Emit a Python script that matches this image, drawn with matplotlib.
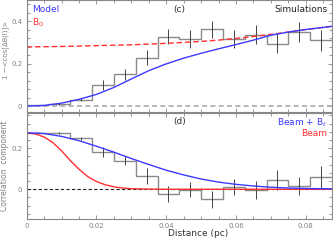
import numpy as np
import matplotlib
matplotlib.use('Agg')
import matplotlib.pyplot as plt
from matplotlib.ticker import MultipleLocator

# histogram bins (pc)
bin_edges = np.arange(15) * 0.00625

# panel (c): structure function, simulations
hist_c = [0.005, 0.009, 0.031, 0.099, 0.15, 0.229, 0.326, 0.315, 0.361, 0.315, 0.337, 0.295, 0.347, 0.31]
err_c = [0.002, 0.004, 0.008, 0.024, 0.027, 0.035, 0.035, 0.042, 0.042, 0.043, 0.045, 0.047, 0.047, 0.05]

curve_x = [0, 0.005, 0.01, 0.015, 0.02, 0.025, 0.03, 0.035, 0.04, 0.045, 0.05,
           0.055, 0.06, 0.065, 0.07, 0.075, 0.08, 0.0875]
model_c = [0.0, 0.003, 0.014, 0.032, 0.055, 0.088, 0.128, 0.167, 0.199, 0.226, 0.249,
           0.27, 0.29, 0.311, 0.334, 0.349, 0.361, 0.376]
b0_c = [0.279, 0.28, 0.281, 0.283, 0.285, 0.287, 0.289, 0.292, 0.296, 0.3, 0.305,
        0.311, 0.319, 0.328, 0.338, 0.349, 0.361, 0.376]

# panel (d): correlation components
hist_d = [0.276, 0.273, 0.249, 0.183, 0.14, 0.065, -0.024, -0.003, -0.049, 0.01, -0.003, 0.045, 0.016, 0.061]
err_d = [0.003, 0.005, 0.008, 0.024, 0.023, 0.037, 0.038, 0.037, 0.042, 0.04, 0.043, 0.049, 0.046, 0.053]

beam_bt = [0.276, 0.272, 0.258, 0.237, 0.21, 0.181, 0.15, 0.121, 0.093, 0.07, 0.05,
           0.035, 0.024, 0.016, 0.01, 0.006, 0.004, 0.002]

beam_x = [0, 0.0025, 0.005, 0.0075, 0.01, 0.0125, 0.015, 0.0175, 0.02, 0.0225,
          0.025, 0.0275, 0.03, 0.035, 0.04, 0.0875]
beam = [0.276, 0.27, 0.255, 0.228, 0.188, 0.14, 0.098, 0.062, 0.038, 0.022,
        0.012, 0.006, 0.003, 0.001, 0.0, 0.0]

xticks = [0, 0.02, 0.04, 0.06, 0.08]
xtick_labels = ['0', '0.02', '0.04', '0.06', '0.08']

plt.rcParams['font.family'] = 'DejaVu Sans'
plt.rcParams['font.size'] = 5

fig = plt.figure(figsize=(3.33, 2.42), dpi=100)
ax1 = fig.add_axes([0.080, 0.537, 0.917, 0.463])
ax2 = fig.add_axes([0.080, 0.095, 0.917, 0.438])

blue = '#3a3aff'
red = '#ff3030'
hgray = '#8a8a8a'
egray = '#444444'
tcol = '#808080'

centers = bin_edges[:-1] + 0.003125

# --- top panel
ax1.axhline(0, color='#aaaaaa', ls='--', lw=1.2, dashes=(3, 2))
ax1.stairs(hist_c, bin_edges, color=hgray, lw=1.0, baseline=None)
ax1.errorbar(centers, hist_c, yerr=err_c, fmt='none', ecolor=egray, elinewidth=0.7, capsize=0)
ax1.plot(curve_x, b0_c, color=red, ls='--', lw=1.0, dashes=(4, 2))
ax1.plot(curve_x, model_c, color=blue, lw=1.0)
ax1.set_ylim(-0.028, 0.5)
ax1.set_yticks([0, 0.2, 0.4], ['0', '0.2', '0.4'])
ax1.yaxis.set_minor_locator(MultipleLocator(0.04))
ax1.set_ylabel('1 \u2212<cos[\u0394\u03b8(l)]>', color=tcol, fontsize=5, labelpad=3)
ax1.yaxis.set_label_coords(-0.058, 0.55)
ax1.text(0.018, 0.955, 'Model', color=blue, fontsize=6.5, transform=ax1.transAxes, va='top')
ax1.text(0.018, 0.855, r'B$_0$', color=red, fontsize=6.5, transform=ax1.transAxes, va='top')
ax1.text(0.5, 0.955, '(c)', color='#333333', fontsize=6.5, transform=ax1.transAxes, va='top', ha='center')
ax1.text(0.985, 0.955, 'Simulations', color='#222222', fontsize=6.5, transform=ax1.transAxes, va='top', ha='right')
ax1.set_xticklabels([])

# --- bottom panel
ax2.axhline(0, color='#222222', ls='--', lw=0.8, dashes=(3, 2))
ax2.stairs(hist_d, bin_edges, color=hgray, lw=1.0, baseline=None)
ax2.errorbar(centers, hist_d, yerr=err_d, fmt='none', ecolor=egray, elinewidth=0.7, capsize=0)
ax2.plot(beam_x, beam, color=red, lw=1.0)
ax2.plot(curve_x, beam_bt, color=blue, lw=1.0)
ax2.set_ylim(-0.145, 0.372)
ax2.set_yticks([0, 0.2], ['0', '0.2'])
ax2.yaxis.set_minor_locator(MultipleLocator(0.04))
ax2.set_ylabel('Correlation  component', color=tcol, fontsize=5.5, labelpad=3)
ax2.yaxis.set_label_coords(-0.058, 0.5)
ax2.set_xlabel('Distance (pc)', color='#333333', fontsize=6.5, labelpad=2)
ax2.xaxis.set_label_coords(0.56, -0.09)
ax2.text(0.5, 0.965, '(d)', color='#333333', fontsize=6.5, transform=ax2.transAxes, va='top', ha='center')
ax2.text(0.985, 0.965, r'Beam + B$_t$', color=blue, fontsize=6.5, transform=ax2.transAxes, va='top', ha='right')
ax2.text(0.985, 0.845, 'Beam', color=red, fontsize=6.5, transform=ax2.transAxes, va='top', ha='right')

for ax in (ax1, ax2):
    ax.set_xlim(0, 0.0875)
    ax.set_xticks(xticks)
    ax.xaxis.set_minor_locator(MultipleLocator(0.005))
    ax.tick_params(which='both', direction='in', top=True, right=True, colors='#888888',
                   labelcolor=tcol, labelsize=5, width=0.6, pad=3)
    ax.tick_params(which='major', length=3)
    ax.tick_params(which='minor', length=2)
    for s in ax.spines.values():
        s.set_color('#888888')
        s.set_linewidth(0.8)
ax2.set_xticklabels(xtick_labels)

fig.savefig('out.png', dpi=100)
